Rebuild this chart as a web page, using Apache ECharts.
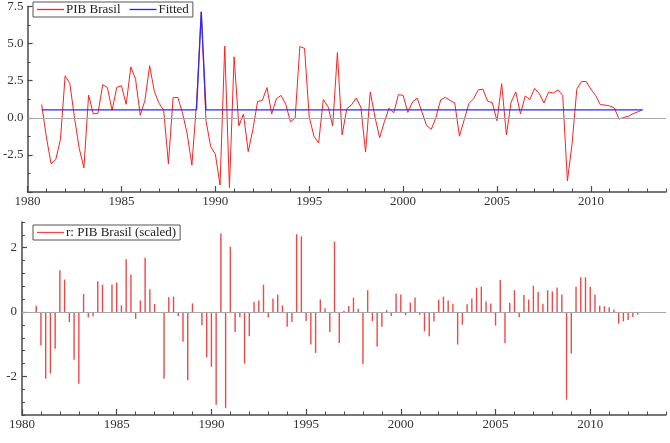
<!DOCTYPE html>
<html>
<head>
<meta charset="utf-8">
<script src="https://cdn.jsdelivr.net/npm/echarts@6/dist/echarts.min.js"></script>
<style>
html,body{margin:0;padding:0;background:#fff;}
#chart{width:670px;height:443px;}
</style>
</head>
<body>
<div id="chart"></div>
<script>
// Quarterly series 1980Q4 .. 2012Q4 (129 quarters)
const firstYear = 1980, firstQuarter = 4;

const pib = [
  0.89, -1.29, -3.10, -2.82, -1.47, 2.83, 2.32, -0.01, -2.06, -3.38,
  1.53, 0.26, 0.31, 2.23, 2.04, 0.50, 2.05, 2.16, 0.91, 3.43,
  2.60, 0.17, 1.17, 3.51, 1.79, 0.98, 0.50, -3.10, 1.35, 1.38,
  0.33, -1.08, -3.19, 1.02, 7.14, -0.18, -1.94, -2.45, -4.53, 4.83,
  -4.70, 4.11, -0.55, 0.26, -2.28, -0.78, 1.10, 1.17, 2.04, 0.26,
  1.28, 1.51, 0.91, -0.27, -0.01, 4.80, 4.68, 0.05, -1.24, -1.70,
  1.23, 0.75, -0.55, 4.39, -1.15, 0.61, 0.87, 1.33, 0.72, -2.31,
  1.74, 0.05, -1.34, -0.27, 0.65, 0.33, 1.56, 1.51, 0.36, 1.07,
  1.33, 0.40, -0.52, -0.78, 0.03, 1.21, 1.38, 1.17, 1.00, -1.24,
  -0.15, 0.96, 1.28, 1.88, 1.93, 1.12, 1.02, -0.20, 2.30, -1.15,
  1.05, 1.74, 0.26, 1.47, 1.23, 1.98, 1.63, 1.00, 1.74, 1.67,
  1.88, 1.51, -4.25, -1.73, 1.93, 2.44, 2.44, 1.93, 1.51, 0.89,
  0.86, 0.80, 0.66, -0.09, 0.03, 0.10, 0.28, 0.40, 0.54
];

const fitted = [
  0.54, 0.54, 0.54, 0.54, 0.54, 0.54, 0.54, 0.54, 0.54, 0.54,
  0.54, 0.54, 0.54, 0.54, 0.54, 0.54, 0.54, 0.54, 0.54, 0.54,
  0.54, 0.54, 0.54, 0.54, 0.54, 0.54, 0.54, 0.54, 0.54, 0.54,
  0.54, 0.54, 0.54, 0.54, 7.14, 0.54, 0.54, 0.54, 0.54, 0.54,
  0.54, 0.54, 0.54, 0.54, 0.54, 0.54, 0.54, 0.54, 0.54, 0.54,
  0.54, 0.54, 0.54, 0.54, 0.54, 0.54, 0.54, 0.54, 0.54, 0.54,
  0.54, 0.54, 0.54, 0.54, 0.54, 0.54, 0.54, 0.54, 0.54, 0.54,
  0.54, 0.54, 0.54, 0.54, 0.54, 0.54, 0.54, 0.54, 0.54, 0.54,
  0.54, 0.54, 0.54, 0.54, 0.54, 0.54, 0.54, 0.54, 0.54, 0.54,
  0.54, 0.54, 0.54, 0.54, 0.54, 0.54, 0.54, 0.54, 0.54, 0.54,
  0.54, 0.54, 0.54, 0.54, 0.54, 0.54, 0.54, 0.54, 0.54, 0.54,
  0.54, 0.54, 0.54, 0.54, 0.54, 0.54, 0.54, 0.54, 0.54, 0.54,
  0.54, 0.54, 0.54, 0.54, 0.54, 0.54, 0.54, 0.54, 0.54
];

const resid = [
  0.20, -1.04, -2.07, -1.91, -1.14, 1.30, 1.01, -0.31, -1.48, -2.23,
  0.56, -0.16, -0.13, 0.96, 0.85, -0.02, 0.86, 0.92, 0.21, 1.64,
  1.17, -0.21, 0.36, 1.69, 0.71, 0.25, -0.02, -2.07, 0.46, 0.48,
  -0.12, -0.92, -2.12, 0.27, 0.00, -0.41, -1.41, -1.70, -2.88, 2.44,
  -2.98, 2.03, -0.62, -0.16, -1.60, -0.75, 0.32, 0.36, 0.85, -0.16,
  0.42, 0.55, 0.21, -0.46, -0.31, 2.42, 2.35, -0.28, -1.01, -1.27,
  0.39, 0.12, -0.62, 2.19, -0.96, 0.04, 0.19, 0.45, 0.10, -1.62,
  0.68, -0.28, -1.07, -0.46, 0.06, -0.12, 0.58, 0.55, -0.10, 0.30,
  0.45, -0.08, -0.60, -0.75, -0.29, 0.38, 0.48, 0.36, 0.26, -1.01,
  -0.39, 0.24, 0.42, 0.76, 0.79, 0.33, 0.27, -0.42, 1.00, -0.96,
  0.29, 0.68, -0.16, 0.53, 0.39, 0.82, 0.62, 0.26, 0.68, 0.64,
  0.76, 0.55, -2.72, -1.29, 0.79, 1.08, 1.08, 0.79, 0.55, 0.20,
  0.18, 0.15, 0.07, -0.36, -0.29, -0.25, -0.15, -0.08, 0.00
];

const yearTicks = [1980, 1985, 1990, 1995, 2000, 2005, 2010];
const residTicks = [-2, 0, 2];

// time position of the i-th quarter (year + (q-1)/4)
function t(i) {
  const q = (firstQuarter - 1) + i;
  return firstYear + Math.floor(q / 4) + (q % 4) / 4;
}
const pair = arr => arr.map((v, i) => [t(i), v]);

const FONT = 'Liberation Serif';
const AXC = '#4a4a4a';
const txt = {fontFamily: FONT, fontSize: 13, color: '#333'};

function xMain(grid) {
  return {
    type: 'value', gridIndex: grid, min: 1980, max: 2014, position: 'bottom',
    axisLine: {show: true, onZero: false, lineStyle: {color: AXC, width: 1.5}},
    axisTick: {show: true, inside: true, length: 6, customValues: yearTicks, lineStyle: {color: AXC, width: 1.2}},
    axisLabel: Object.assign({margin: 3, customValues: yearTicks, formatter: v => String(v)}, txt),
    splitLine: {show: false}
  };
}
function xMinor(grid) {
  return {
    type: 'value', gridIndex: grid, min: 1980, max: 2014, interval: 1, position: 'bottom',
    axisLine: {show: false, onZero: false},
    axisTick: {show: true, inside: true, length: 3.5, lineStyle: {color: AXC, width: 1}},
    axisLabel: {show: false},
    splitLine: {show: false}
  };
}

const zeroLine = {
  silent: true, symbol: ['none', 'none'], label: {show: false},
  lineStyle: {color: '#a8a8a8', type: 'solid', width: 1},
  data: [{yAxis: 0}]
};

const legendText = {fontFamily: FONT, fontSize: 13, color: '#222', padding: [0, 0, 0, -3]};

const option = {
  animation: false,
  backgroundColor: '#fff',
  grid: [
    {left: 22, top: 0, width: 644, height: 192},
    {left: 22, top: 222, width: 644, height: 193}
  ],
  legend: [
    {
      data: ['PIB Brasil', 'Fitted'], left: 33, top: 2, orient: 'horizontal',
      icon: 'rect', itemWidth: 27, itemHeight: 1.3, itemGap: 9,
      borderColor: '#555', borderWidth: 1, backgroundColor: '#fff', padding: [1, 4, 1, 4],
      textStyle: legendText
    },
    {
      data: ['r: PIB Brasil (scaled)'], left: 33, top: 225, orient: 'horizontal',
      icon: 'rect', itemWidth: 27, itemHeight: 1.3,
      borderColor: '#555', borderWidth: 1, backgroundColor: '#fff', padding: [1, 4, 1, 4],
      textStyle: legendText
    }
  ],
  xAxis: [xMain(0), xMinor(0), xMain(1), xMinor(1)],
  yAxis: [
    {
      type: 'value', gridIndex: 0, min: -5, max: 7.5, interval: 2.5, position: 'left',
      axisLine: {show: true, onZero: false, lineStyle: {color: AXC, width: 1.5}},
      axisTick: {show: true, inside: true, length: 5, lineStyle: {color: AXC, width: 1.2}},
      minorTick: {show: true, splitNumber: 2, length: 3, lineStyle: {color: AXC, width: 1}},
      axisLabel: Object.assign({margin: 4, showMinLabel: false, formatter: v => v.toFixed(1)}, txt),
      splitLine: {show: false}
    },
    {
      type: 'value', gridIndex: 1, min: -3.2, max: 2.8, position: 'left',
      axisLine: {show: true, onZero: false, lineStyle: {color: AXC, width: 1.5}},
      axisTick: {show: true, inside: true, length: 5, customValues: residTicks, lineStyle: {color: AXC, width: 1.2}},
      axisLabel: Object.assign({margin: 5, customValues: residTicks, formatter: v => String(v)}, txt),
      splitLine: {show: false}
    },
    {
      type: 'value', gridIndex: 1, min: -3.2, max: 2.8, interval: 0.4, position: 'left',
      axisLine: {show: false, onZero: false},
      axisTick: {show: true, inside: true, length: 3, lineStyle: {color: AXC, width: 1}},
      axisLabel: {show: false},
      splitLine: {show: false}
    }
  ],
  series: [
    {
      name: 'PIB Brasil', type: 'line', xAxisIndex: 0, yAxisIndex: 0,
      data: pair(pib), symbol: 'none', color: '#ff2020',
      lineStyle: {color: '#ff2020', width: 1}, markLine: zeroLine, z: 2
    },
    {
      name: 'Fitted', type: 'line', xAxisIndex: 0, yAxisIndex: 0,
      data: pair(fitted), symbol: 'none', color: '#2020ff',
      lineStyle: {color: '#2a2aff', width: 1.3}, z: 3
    },
    {
      name: 'r: PIB Brasil (scaled)', type: 'bar', xAxisIndex: 2, yAxisIndex: 1,
      data: pair(resid), barWidth: 1.4, color: '#f04848',
      itemStyle: {color: '#f04848'}, markLine: zeroLine, z: 2
    }
  ]
};

const chart = echarts.init(document.getElementById('chart'), null, {renderer: 'canvas'});
chart.setOption(option);
</script>
</body>
</html>
